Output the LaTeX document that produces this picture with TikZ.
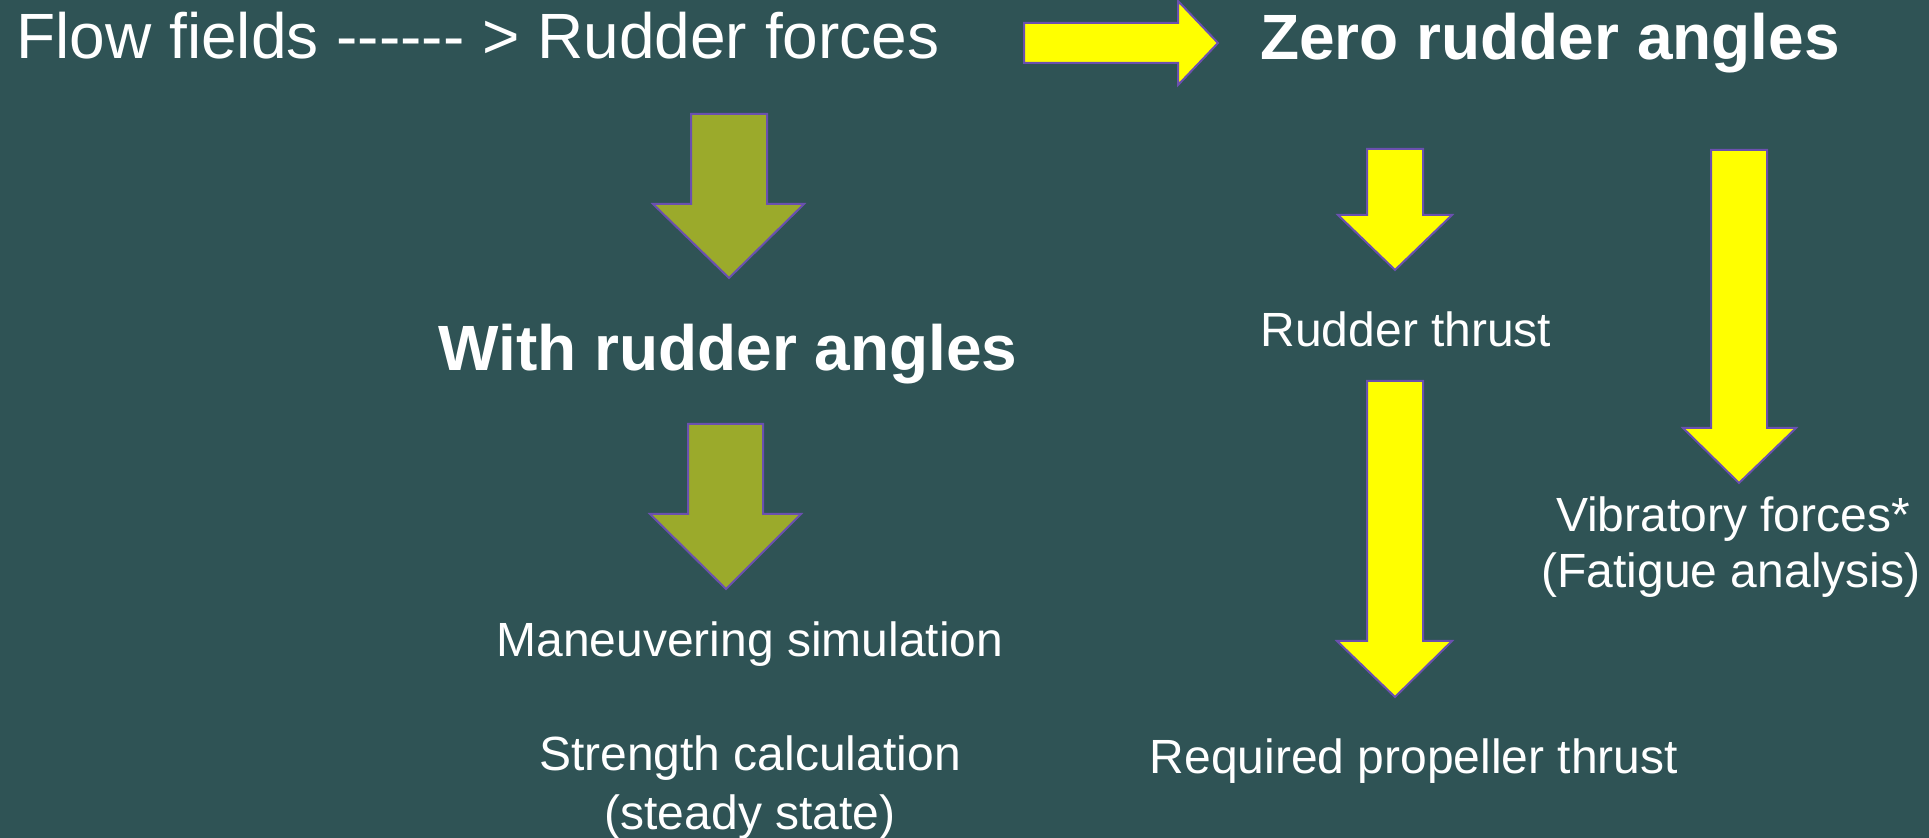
\documentclass[tikz,border=0pt]{standalone}
\usepackage{fontspec}
\setmainfont{Liberation Sans}
\definecolor{bgc}{RGB}{47,83,85}
\definecolor{olivec}{RGB}{155,170,43}
\definecolor{yellowc}{RGB}{255,255,0}
\definecolor{edgec}{RGB}{107,80,175}
\tikzset{
  bigtxt/.style={inner sep=0pt, anchor=base, text=white, font=\fontsize{32}{38}\selectfont},
  bigbold/.style={bigtxt, font=\fontsize{32}{38}\selectfont\bfseries},
  smalltxt/.style={inner sep=0pt, anchor=base, text=white, font=\fontsize{24}{28}\selectfont},
  olivearrow/.style={fill=olivec, draw=edgec, line width=1pt, line join=miter},
  yellowarrow/.style={fill=yellowc, draw=edgec, line width=1pt, line join=miter}
}
\begin{document}
\begin{tikzpicture}[x=0.5pt, y=-0.5pt]
\fill[bgc] (0,0) rectangle (1929,838);
\useasboundingbox (0,0) rectangle (1929,838);

% block arrows
\draw[olivearrow] (691,114) -- (767,114) -- (767,204) -- (804,204) -- (729,278) -- (653,204) -- (691,204) -- cycle;
\draw[olivearrow] (688,424) -- (763,424) -- (763,514) -- (801,514) -- (726,589) -- (650,514) -- (688,514) -- cycle;
\draw[yellowarrow] (1024,23) -- (1178,23) -- (1178,1) -- (1218,43) -- (1178,85) -- (1178,63) -- (1024,63) -- cycle;
\draw[yellowarrow] (1367,149) -- (1423,149) -- (1423,215) -- (1452,215) -- (1395,270) -- (1338,215) -- (1367,215) -- cycle;
\draw[yellowarrow] (1711,150) -- (1767,150) -- (1767,428) -- (1796,428) -- (1739,483) -- (1683,428) -- (1711,428) -- cycle;
\draw[yellowarrow] (1367,381) -- (1423,381) -- (1423,641) -- (1452,641) -- (1395,697) -- (1337,641) -- (1367,641) -- cycle;

% texts
\node[bigtxt] (flow) at (478,59) {Flow fields -{}-{}-{}-{}-{}- > Rudder forces};
\node[bigbold] (zero) at (1550,60) {Zero rudder angles};
\node[bigbold] (with) at (728,371) {With rudder angles};
\node[smalltxt] (rthrust) at (1406,347) {Rudder thrust};
\node[smalltxt] (vib1) at (1733,532) {Vibratory forces*};
\node[smalltxt] (vib2) at (1731,588) {(Fatigue analysis)};
\node[smalltxt] (man) at (750,657) {Maneuvering simulation};
\node[smalltxt] (str1) at (750,771) {Strength calculation};
\node[smalltxt] (str2) at (750,830) {(steady state)};
\node[smalltxt] (req) at (1414,774) {Required propeller thrust};
\end{tikzpicture}
\end{document}
